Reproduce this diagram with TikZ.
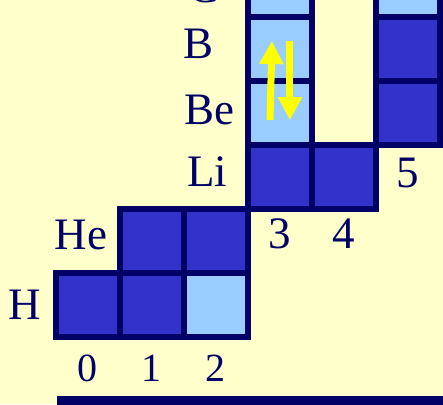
\documentclass[tikz,border=0pt]{standalone}
\usepackage{fontspec}
\setmainfont{Liberation Serif}
\usetikzlibrary{arrows.meta}
\definecolor{creambg}{HTML}{FFFFCC}
\definecolor{orbdark}{HTML}{3333CC}
\definecolor{orblight}{HTML}{99CCFF}
\definecolor{gridnavy}{HTML}{000066}
\definecolor{spinyellow}{HTML}{FFFF00}

\begin{document}
\begin{tikzpicture}[
  x=32pt, y=32pt,
  darkcell/.style={rectangle, draw=gridnavy, fill=orbdark, line width=3pt, minimum size=32pt, inner sep=0pt},
  lightcell/.style={darkcell, fill=orblight},
  elem/.style={font=\fontsize{22.5}{22.5}\selectfont, text=gridnavy, anchor=base, inner sep=0pt},
  lownum/.style={elem, font=\fontsize{20}{20}\selectfont},
  spin/.style={draw=spinyellow, line width=3.5pt, -{Triangle[length=11.5pt, width=11.5pt]}}
]

  % Background and frame
  \clip (-0.875, -1.047) rectangle (6.047, 5.266);
  \fill[creambg] (-0.875, -1.047) rectangle (6.047, 5.266);

  % ==================== ROWS ====================
  % H
  \node[darkcell] (h0) at (0.5, 0.5) {};
  \node[darkcell] (h1) at (1.5, 0.5) {};
  \node[lightcell] (h2) at (2.5, 0.5) {};

  % He
  \node[darkcell] (he1) at (1.5, 1.5) {};
  \node[darkcell] (he2) at (2.5, 1.5) {};

  % Li
  \node[darkcell] (li3) at (3.5, 2.5) {};
  \node[darkcell] (li4) at (4.5, 2.5) {};

  % Be
  \node[lightcell] (be3) at (3.5, 3.5) {};
  \node[darkcell] (be5) at (5.5, 3.5) {};

  % B
  \node[lightcell] (b3) at (3.5, 4.5) {};
  \node[darkcell] (b5) at (5.5, 4.5) {};

  % C
  \node[lightcell] (c3) at (3.5, 5.5) {};
  \node[lightcell] (c5) at (5.5, 5.5) {};

  % Spin pair
  \draw[spin] (3.344, 3.39) -- (3.375, 4.625);
  \draw[spin] (3.656, 4.625) -- (3.656, 3.39);

  % Element labels
  \node[elem] (lab_h) at (-0.484, 0.266) {H};
  \node[elem] (lab_he) at (0.39, 1.36) {He};
  \node[elem] (lab_li) at (2.36, 2.35) {Li};
  \node[elem] (lab_be) at (2.40, 3.32) {Be};
  \node[elem] (lab_b) at (2.23, 4.35) {B};
  \node[elem] (lab_c) at (2.30, 5.22) {C};

  % Column numbers
  \node[lownum] (n0) at (0.5, -0.70) {0};
  \node[lownum] (n1) at (1.5, -0.70) {1};
  \node[lownum] (n2) at (2.5, -0.70) {2};
  \node[elem] (n3) at (3.5, 1.39) {3};
  \node[elem] (n4) at (4.5, 1.39) {4};
  \node[elem] (n5) at (5.5, 2.33) {5};

  % Base bar
  \fill[gridnavy] (0.01, -0.92) rectangle (6.2, -1.2);

\end{tikzpicture}
\end{document}
